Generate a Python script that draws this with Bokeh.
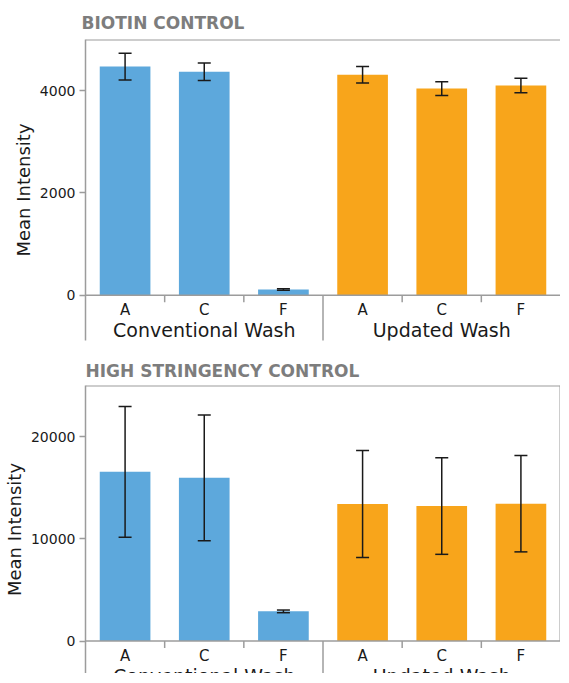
import math
from bokeh.plotting import figure
from bokeh.models import (FactorRange, ColumnDataSource, Whisker, TeeHead, Span,
                          FixedTicker, Range1d)
from bokeh.layouts import column
from bokeh.embed import file_html
from bokeh.resources import INLINE
from bokeh.core.properties import value

# ---------------- data ----------------
groups = ["Conventional Wash", "Updated Wash"]
samples = ["A", "C", "F"]
group_colors = ["#5DA8DC", "#F8A51B"]

biotin_mean = [4470, 4370, 110, 4310, 4040, 4100]
biotin_err = [260, 170, 15, 160, 135, 140]
biotin_ticks = [0, 2000, 4000]
biotin_top = 5000

stringency_mean = [16550, 15970, 2900, 13400, 13200, 13440]
stringency_err = [6400, 6150, 130, 5230, 4720, 4720]
stringency_ticks = [0, 10000, 20000]
stringency_top = 25000

FONT = "DejaVu Sans"
AXIS_GRAY = "#9c9c9c"
TEXT = "#1a1a1a"
FIG_W = 560


def make_panel(title, means, errs, ticks, ytop, height, border_left, border_top,
               border_bottom, zero_px, ext_px, right_border, title_offset,
               title_standoff):
    factors = [(g, s) for g in groups for s in samples]
    colors = [group_colors[i // len(samples)] for i in range(len(factors))]
    below = ytop * ext_px / zero_px
    src = ColumnDataSource(dict(
        x=factors, mean=means,
        upper=[m + e for m, e in zip(means, errs)],
        lower=[m - e for m, e in zip(means, errs)],
        color=colors))

    p = figure(x_range=FactorRange(*factors, factor_padding=0, group_padding=0,
                                   range_padding=0),
               y_range=Range1d(-below, ytop),
               width=FIG_W, height=height, output_backend="svg",
               toolbar_location=None, min_border_left=border_left,
               min_border_right=0, min_border_top=border_top,
               min_border_bottom=border_bottom, title=title)
    p.outline_line_color = None
    p.xgrid.visible = False
    p.ygrid.visible = False
    p.xaxis.visible = False

    p.title.text_font = FONT
    p.title.text_font_size = "17px"
    p.title.text_font_style = "bold"
    p.title.text_color = "#7d7d7d"
    p.title.align = "left"
    p.title.offset = title_offset
    p.title.standoff = title_standoff

    ax = p.yaxis[0]
    ax.ticker = FixedTicker(ticks=ticks)
    ax.axis_line_color = AXIS_GRAY
    ax.axis_line_width = 1.5
    ax.major_tick_line_color = AXIS_GRAY
    ax.major_tick_line_width = 1.5
    ax.major_tick_out = 6
    ax.major_tick_in = 0
    ax.minor_tick_line_color = None
    ax.major_label_text_font = FONT
    ax.major_label_text_font_size = "14px"
    ax.major_label_text_color = TEXT
    ax.major_label_standoff = 4
    ax.axis_label = "Mean Intensity"
    ax.axis_label_text_font = FONT
    ax.axis_label_text_font_size = "18px"
    ax.axis_label_text_font_style = "normal"
    ax.axis_label_text_color = TEXT
    ax.axis_label_standoff = 3

    # bars
    p.vbar(x="x", top="mean", width=0.64, source=src, fill_color="color",
           line_color=None)

    # error bars
    head = dict(size=13, line_color=TEXT, line_width=1.5)
    p.add_layout(Whisker(source=src, base="x", upper="upper", lower="lower",
                         line_color=TEXT, line_width=1.5, level="overlay",
                         upper_head=TeeHead(**head), lower_head=TeeHead(**head)))

    # frame lines
    p.add_layout(Span(location=0, dimension="width", line_color=AXIS_GRAY,
                      line_width=1.5))
    p.add_layout(Span(location=ytop, dimension="width", line_color=AXIS_GRAY,
                      line_width=2))
    if right_border:
        edge = (groups[-1], samples[-1], 0.5)
        p.segment(x0=[edge], y0=[0], x1=[edge], y1=[ytop],
                  line_color=AXIS_GRAY, line_width=2)

    # category boundary ticks and group separator
    inner = [(g, s, 0.5) for g in groups for s in samples[:-1]]
    p.ray(x=inner, y=[0] * len(inner), length=7, length_units="screen",
          angle=-math.pi / 2, line_color=AXIS_GRAY, line_width=1.5)
    seps = [(g, samples[-1], 0.5) for g in groups[:-1]]
    p.ray(x=seps, y=[0] * len(seps), length=200, length_units="screen",
          angle=-math.pi / 2, line_color=AXIS_GRAY, line_width=1.5)

    # category labels
    p.text(x=factors, y=[0] * len(factors), text=[f[1] for f in factors],
           y_offset=15, text_align="center", text_baseline="alphabetic",
           text_font=value(FONT), text_font_size="15px", text_color=TEXT)
    p.text(x=groups, y=[0] * len(groups), text=groups,
           y_offset=35, text_align="center", text_baseline="alphabetic",
           text_font=value(FONT), text_font_size="19px", text_color=TEXT)
    return p


p1 = make_panel("BIOTIN CONTROL", biotin_mean, biotin_err, biotin_ticks,
                biotin_top, height=352, border_left=76, border_top=39,
                border_bottom=12, zero_px=256.5, ext_px=45.5, right_border=False,
                title_offset=-4, title_standoff=13)
p2 = make_panel("HIGH STRINGENCY CONTROL", stringency_mean, stringency_err,
                stringency_ticks, stringency_top, height=321, border_left=76,
                border_top=33, border_bottom=0, zero_px=255.5, ext_px=32.5,
                right_border=True, title_offset=0, title_standoff=9)

layout = column(p1, p2, spacing=0)
open("out.html", "w").write(file_html(layout, INLINE))
